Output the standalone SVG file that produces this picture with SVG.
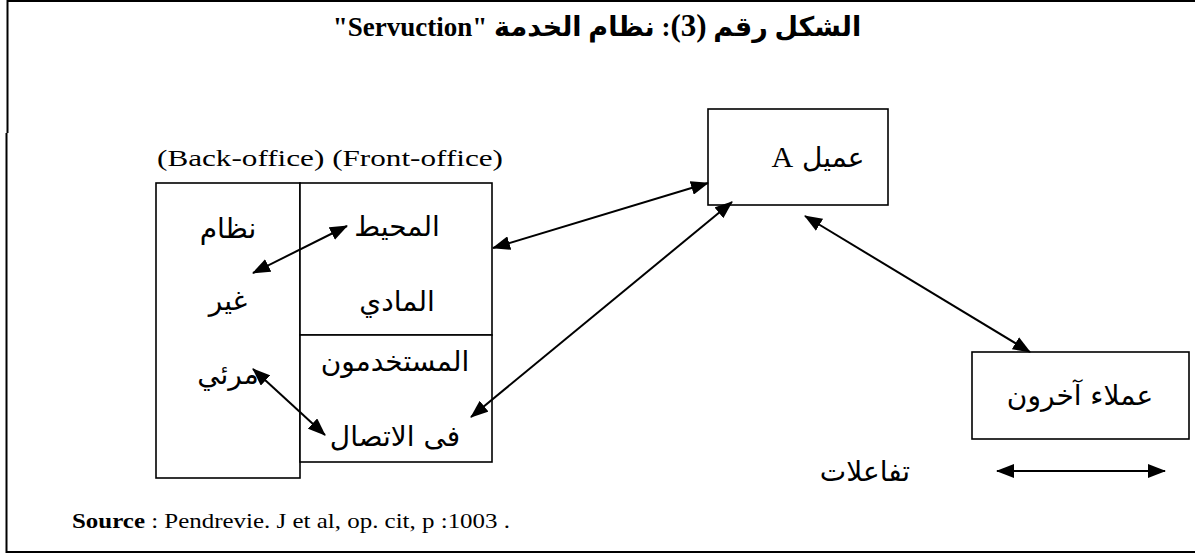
<svg xmlns="http://www.w3.org/2000/svg" width="1195" height="553" viewBox="0 0 1195 553">
  <style>
    .frame { stroke: #000; stroke-width: 2; fill: none; }
    .box { stroke: #000; stroke-width: 1.6; fill: #fff; }
    .ar { font-family: "DejaVu Sans", "Liberation Serif", serif; font-size: 28px; fill: #000; }
    .lat { font-family: "Liberation Serif", "DejaVu Serif", serif; fill: #000; }
    .title { font-family: "Liberation Serif", "DejaVu Sans", serif; font-size: 27px; font-weight: bold; fill: #000; }
    .conn { stroke: #000; stroke-width: 2; fill: none; marker-start: url(#ah); marker-end: url(#ah); }
  </style>
  <defs>
    <marker id="ah" viewBox="0 0 18 14" refX="17" refY="7" markerWidth="18" markerHeight="14" markerUnits="userSpaceOnUse" orient="auto-start-reverse">
      <path d="M0,0 L18,7 L0,14 z" fill="#000"/>
    </marker>
  </defs>
  <rect width="1195" height="553" fill="#fff"/>

  <g id="frame">
    <line class="frame" x1="7" y1="1" x2="1195" y2="1"/>
    <line class="frame" x1="7.5" y1="0" x2="7.5" y2="133"/>
    <line class="frame" x1="6.5" y1="133" x2="6.5" y2="553"/>
    <line class="frame" x1="6" y1="552" x2="1195" y2="552"/>
  </g>

  <g id="title">
    <text class="title" x="597" y="36" text-anchor="middle" direction="rtl">الشكل رقم <tspan font-size="31">(3)</tspan>: نظام الخدمة "Servuction"</text>
  </g>

  <g id="office-labels">
    <text class="lat" x="157" y="166" font-size="23" textLength="346" lengthAdjust="spacingAndGlyphs">(Back-office) (Front-office)</text>
  </g>

  <g id="back-office">
    <rect class="box" x="156" y="183" width="144" height="295"/>
    <text class="ar" x="228" y="238" text-anchor="middle" direction="rtl">نظام</text>
    <text class="ar" x="228" y="310" text-anchor="middle" direction="rtl">غير</text>
    <text class="ar" x="228" y="384" text-anchor="middle" direction="rtl">مرئي</text>
  </g>

  <g id="physical-environment">
    <rect class="box" x="300" y="183" width="192" height="152"/>
    <text class="ar" x="397" y="236" text-anchor="middle" direction="rtl">المحيط</text>
    <text class="ar" x="397" y="311" text-anchor="middle" direction="rtl">المادي</text>
  </g>

  <g id="contact-staff">
    <rect class="box" x="300" y="335" width="192" height="127"/>
    <text class="ar" x="395" y="371" text-anchor="middle" direction="rtl">المستخدمون</text>
    <text class="ar" x="395" y="446" text-anchor="middle" direction="rtl">فى الاتصال</text>
  </g>

  <g id="client-a">
    <rect class="box" x="708" y="109" width="180" height="96"/>
    <text class="ar" x="818" y="167" text-anchor="middle" direction="rtl">عميل <tspan font-family="Liberation Serif, serif" font-size="30">A</tspan></text>
  </g>

  <g id="other-clients">
    <rect class="box" x="972" y="352" width="217" height="87"/>
    <text class="ar" x="1080" y="405" text-anchor="middle" direction="rtl" font-size="30">عملاء آخرون</text>
  </g>

  <g id="legend">
    <text class="ar" x="865" y="481" text-anchor="middle" direction="rtl" font-size="30">تفاعلات</text>
  </g>

  <g id="connectors">
    <line class="conn" x1="493" y1="248" x2="708" y2="183"/>
    <line class="conn" x1="471" y1="417" x2="732" y2="202"/>
    <line class="conn" x1="805" y1="216" x2="1030" y2="352"/>
    <line class="conn" x1="253" y1="273" x2="347" y2="226"/>
    <line class="conn" x1="253" y1="369" x2="325" y2="435"/>
    <line class="conn" x1="997" y1="471" x2="1165" y2="471"/>
  </g>

  <g id="source">
    <text class="lat" x="72" y="528" font-size="21" textLength="438" lengthAdjust="spacingAndGlyphs"><tspan font-weight="bold">Source</tspan> : Pendrevie. J et al, op. cit, p :1003 .</text>
  </g>
</svg>
